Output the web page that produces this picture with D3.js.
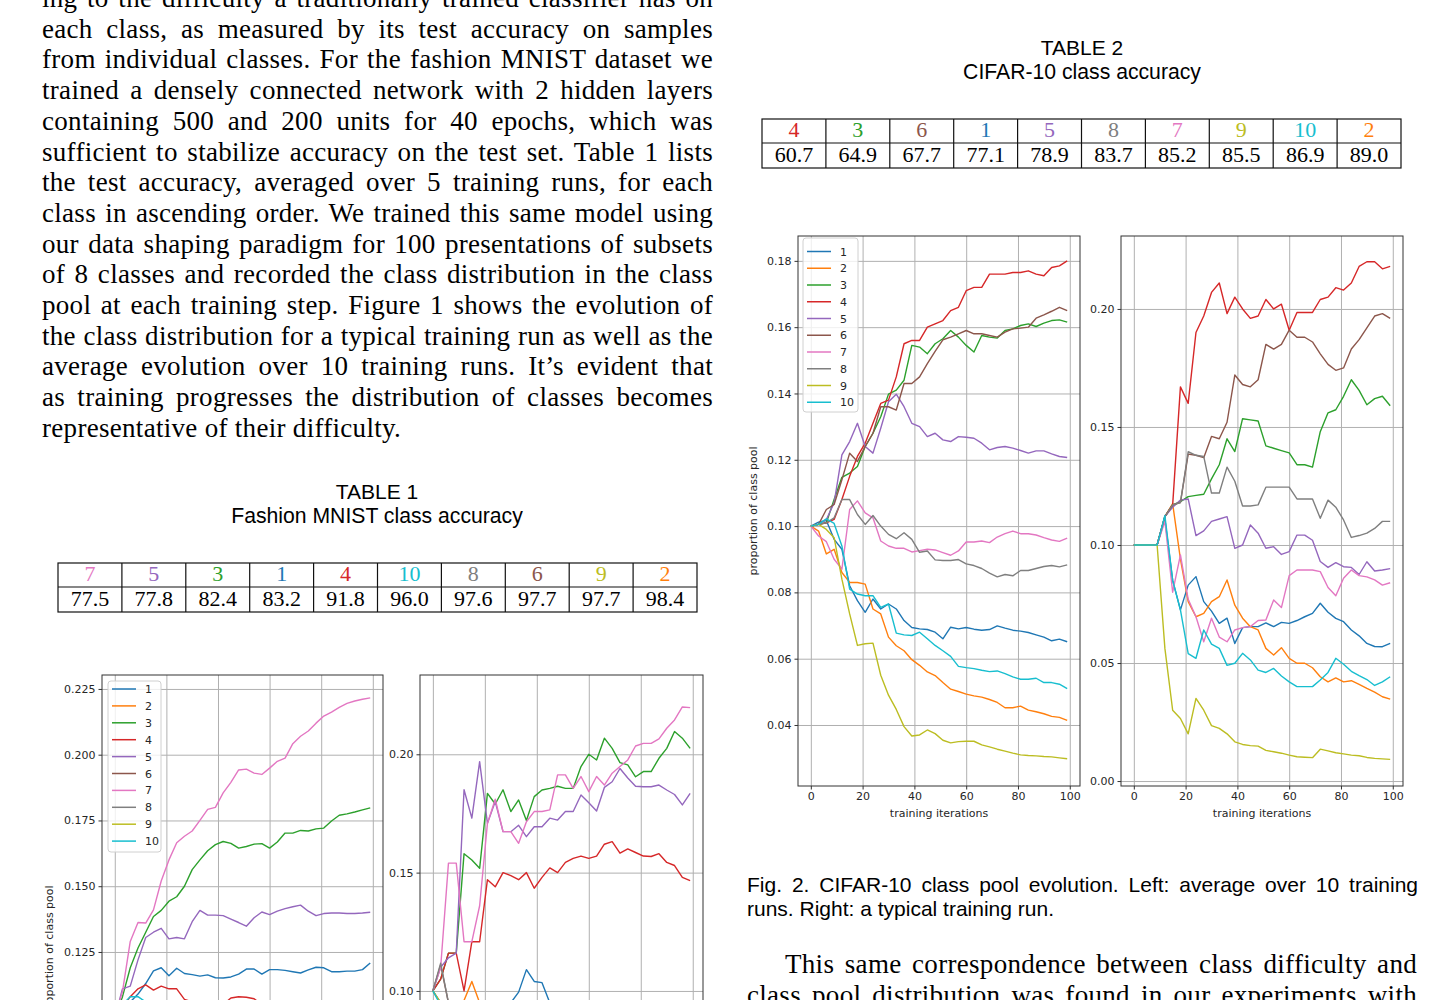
<!DOCTYPE html>
<html>
<head>
<meta charset="utf-8">
<script src="https://cdn.jsdelivr.net/npm/d3@7"></script>
<style>
  body { margin: 0; background: #fff; }
  svg { display: block; }
</style>
</head>
<body>
<svg id="page" width="1442" height="1000"></svg>
<script>
// ---- data ----
var classes = ["1", "2", "3", "4", "5", "6", "7", "8", "9", "10"];
var classColor = d3.scaleOrdinal().domain(classes).range(d3.schemeCategory10);

// training iterations at which the curves are sampled
var iters = [0, 3, 6, 9, 12, 15, 18, 21, 24, 27, 30, 33, 36, 39, 42, 45, 48, 51, 54, 57,
             60, 63, 66, 69, 72, 75, 78, 81, 84, 87, 90, 93, 96, 99];

var fashionOrder = ["7", "5", "3", "1", "4", "10", "8", "6", "9", "2"];
var fashionAcc = ["77.5", "77.8", "82.4", "83.2", "91.8", "96.0", "97.6", "97.7", "97.7", "98.4"];
var cifarOrder = ["4", "3", "6", "1", "5", "8", "7", "9", "10", "2"];
var cifarAcc = ["60.7", "64.9", "67.7", "77.1", "78.9", "83.7", "85.2", "85.5", "86.9", "89.0"];

// CIFAR-10, average over 10 runs (rows = class 1..10)
var cifarAvg = [
  [.100,.1012,.1017,.096,.093,.082,.0775,.074,.078,.075,.0765,.075,.0715,.0694,.069,.0688,.068,.066,.0695,.069,.0694,.0689,.0686,.0688,.0699,.0692,.0686,.0683,.0679,.0672,.0665,.0654,.0659,.0651],
  [.100,.0985,.0916,.093,.086,.083,.083,.0825,.075,.0735,.0665,.0639,.0624,.0597,.058,.056,.0549,.0528,.0508,.0501,.0493,.0488,.0484,.0477,.0468,.0452,.0452,.0457,.0445,.044,.0434,.0426,.0423,.0414],
  [.100,.1005,.101,.108,.1147,.116,.118,.124,.128,.133,.1398,.141,.144,.1545,.154,.152,.155,.1565,.159,.157,.1545,.1525,.1575,.157,.1567,.159,.1595,.1605,.161,.1602,.1612,.162,.1622,.1615],
  [.100,.1005,.101,.102,.108,.115,.121,.125,.131,.137,.138,.145,.155,.156,.156,.160,.161,.162,.165,.166,.171,.172,.172,.176,.176,.176,.1765,.1765,.177,.176,.1755,.178,.1785,.180],
  [.100,.1005,.102,.107,.1215,.1255,.131,.124,.122,.1295,.1375,.1398,.136,.131,.130,.127,.128,.126,.1255,.127,.1268,.1265,.125,.123,.1237,.124,.1235,.1228,.122,.1227,.1227,.1218,.121,.1207],
  [.100,.1005,.105,.1065,.114,.122,.1195,.124,.128,.136,.136,.135,.143,.143,.145,.149,.1527,.1562,.157,.158,.159,.158,.158,.1575,.157,.1585,.1595,.1597,.160,.1627,.1637,.1648,.166,.165],
  [.100,.097,.0953,.090,.087,.105,.1076,.104,.1025,.0955,.094,.0933,.0933,.0922,.0926,.093,.0928,.092,.0912,.0925,.0952,.0952,.0955,.095,.0967,.0977,.0985,.0977,.0977,.0973,.0965,.0958,.0954,.0964],
  [.100,.1005,.101,.1025,.108,.108,.1035,.1005,.1032,.100,.0975,.0962,.098,.096,.0921,.0925,.0898,.0896,.0896,.0899,.0886,.0881,.0872,.0858,.0847,.0854,.085,.0866,.0866,.0872,.0878,.0881,.0877,.0883],
  [.100,.1005,.099,.0965,.084,.0735,.064,.0645,.0647,.055,.049,.0447,.0395,.0367,.037,.0385,.0374,.0354,.0346,.035,.0351,.0351,.034,.0334,.0327,.0321,.0315,.031,.0308,.0307,.0305,.0304,.0301,.0298],
  [.100,.1005,.1022,.1008,.094,.081,.0795,.079,.079,.0755,.0765,.0677,.0672,.067,.068,.066,.064,.0624,.0607,.0577,.0573,.057,.0565,.0561,.0563,.0555,.0545,.0538,.0538,.0541,.0528,.0528,.0523,.051]
];

// CIFAR-10, a typical run
var cifarRun = [
  [.100,.100,.100,.100,.111,.085,.0725,.083,.0866,.076,.072,.0668,.069,.0583,.065,.0654,.0654,.067,.0654,.0672,.0668,.068,.0696,.071,.0753,.0715,.0689,.0675,.064,.0615,.0583,.057,.0569,.0583],
  [.100,.100,.100,.100,.112,.1175,.094,.076,.0696,.071,.076,.0781,.0852,.0745,.069,.0654,.064,.0562,.0534,.0565,.052,.0499,.0499,.048,.0442,.042,.0437,.042,.0425,.041,.0393,.0377,.0357,.0347],
  [.100,.100,.100,.100,.112,.117,.1184,.1205,.121,.1215,.128,.134,.145,.1396,.1535,.153,.1525,.142,.141,.140,.139,.134,.134,.133,.148,.156,.1573,.163,.170,.1655,.1594,.162,.163,.159],
  [.100,.100,.100,.100,.112,.117,.167,.160,.190,.197,.207,.211,.198,.205,.200,.196,.197,.204,.200,.202,.191,.1985,.1985,.1985,.204,.205,.209,.208,.211,.218,.220,.220,.217,.218],
  [.100,.100,.100,.100,.112,.116,.119,.1195,.104,.106,.110,.111,.112,.0986,.100,.1085,.105,.0986,.0993,.096,.0972,.1042,.1042,.102,.093,.0905,.0925,.0908,.0905,.0875,.0929,.089,.0894,.090],
  [.100,.100,.100,.100,.112,.117,.118,.1385,.138,.137,.146,.145,.152,.172,.168,.167,.170,.185,.183,.185,.191,.188,.188,.186,.181,.1765,.174,.175,.183,.187,.192,.197,.198,.196],
  [.100,.100,.100,.100,.110,.080,.0958,.077,.0696,.059,.069,.061,.059,.064,.065,.0654,.068,.0682,.0767,.0735,.087,.0894,.0894,.0894,.0887,.082,.0785,.0859,.0894,.087,.0865,.0852,.083,.084],
  [.100,.100,.100,.100,.112,.117,.118,.1395,.138,.1375,.122,.122,.133,.127,.1165,.1165,.117,.1245,.1245,.1245,.1245,.1195,.1195,.1195,.1113,.119,.116,.1106,.1032,.104,.105,.107,.110,.110],
  [.100,.100,.100,.100,.0562,.030,.0265,.020,.035,.030,.0235,.0223,.020,.0166,.0155,.015,.0148,.013,.0124,.0118,.011,.0103,.0101,.0099,.0135,.0128,.012,.0115,.011,.0107,.010,.0096,.0094,.0092],
  [.100,.100,.100,.100,.1125,.085,.0725,.054,.052,.064,.058,.0562,.049,.0499,.0541,.0513,.047,.046,.0477,.0445,.042,.040,.040,.040,.0428,.046,.052,.0495,.0465,.0447,.043,.0405,.042,.0442]
];

// Fashion MNIST, average over 10 runs (null = below the visible part of the page)
var fashionAvg = [
  [.100,.103,.106,.109,.113,.1178,.119,.116,.1188,.1168,.1164,.1158,.1163,.1152,.1151,.1155,.1166,.1185,.1185,.1166,.1183,.1183,.118,.1175,.117,.1182,.1192,.119,.1175,.1175,.1177,.1177,.1183,.1208],
  [.100],
  [.100,.108,.119,.1265,.1325,.1385,.1408,.1443,.146,.150,.1563,.160,.1635,.1658,.167,.1663,.1645,.1651,.166,.1662,.1645,.1668,.1702,.1702,.1712,.171,.1718,.1721,.1748,.177,.1775,.1782,.179,.1798],
  [.100,.104,.108,.111,.1125,.1105,.112,.111,.111,.107,.106,.105,.104,.104,.105,.1075,.108,.1078,.1072,.105,.104,.103],
  [.100,.111,.112,.122,.1305,.1325,.134,.130,.1305,.130,.1365,.1408,.139,.139,.1388,.1375,.1362,.1348,.138,.1402,.1392,.1405,.1415,.1422,.1428,.1405,.1388,.1396,.1398,.1398,.1396,.1396,.1398,.1401],
  [.100],
  [.100,.110,.129,.1362,.136,.141,.152,.160,.1665,.169,.171,.175,.1792,.180,.1855,.1895,.1942,.1945,.193,.1925,.1949,.1975,.1987,.2042,.207,.209,.212,.2147,.2162,.218,.2195,.2204,.2211,.2216],
  [.100],
  [.100],
  [.100,.105,.108,.108,.106,.104,.102]
];

// Fashion MNIST, a typical run
var fashionRun = [
  [.100,.095,null,null,null,null,null,null,null,null,.095,.0995,.109,.104,.1035,.095],
  [.100,.095,null,null,.096,.104,.095],
  [.100,.105,.116,.116,.158,.1553,.1518,.1835,.179,.185,.1758,.1807,.172,.1821,.1849,.1856,.1865,.1856,.1856,.1948,.200,.1976,.2068,.2025,.1965,.1955,.1905,.1927,.1927,.1983,.2025,.2096,.2068,.2025],
  [.100,.105,.116,.116,.100,.1208,.1208,.147,.144,.150,.1487,.147,.150,.1434,.148,.152,.150,.1543,.156,.157,.156,.157,.162,.1631,.1582,.160,.1585,.157,.1568,.158,.1543,.153,.148,.1466],
  [.100,.110,.114,.116,.185,.173,.1969,.1708,.180,.1673,.1673,.170,.1652,.1694,.1694,.173,.1722,.1758,.1758,.1828,.1795,.176,.186,.1884,.194,.190,.1865,.1863,.1863,.187,.1849,.183,.1786,.1835],
  [.100,.111,.095],
  [.100,.110,.154,.154,.1208,.1208,.136,.1708,.181,.1673,.1673,.1624,.1715,.1758,.1758,.1765,.1913,.1913,.1856,.1906,.1842,.1906,.187,.192,.1948,.1976,.2035,.2046,.2046,.2065,.211,.2145,.2200,.2197],
  [.100,.1117,.095],
  [.100,.095],
  [.100,.094]
];

// ---- text ----
var bodyLines = [
  "ing to the difficulty a traditionally trained classifier has on",
  "each class, as measured by its test accuracy on samples",
  "from individual classes. For the fashion MNIST dataset we",
  "trained a densely connected network with 2 hidden layers",
  "containing 500 and 200 units for 40 epochs, which was",
  "sufficient to stabilize accuracy on the test set. Table 1 lists",
  "the test accuracy, averaged over 5 training runs, for each",
  "class in ascending order. We trained this same model using",
  "our data shaping paradigm for 100 presentations of subsets",
  "of 8 classes and recorded the class distribution in the class",
  "pool at each training step. Figure 1 shows the evolution of",
  "the class distribution for a typical training run as well as the",
  "average evolution over 10 training runs. It\u2019s evident that",
  "as training progresses the distribution of classes becomes",
  "representative of their difficulty."
];
var captionLines = [
  "Fig. 2. CIFAR-10 class pool evolution. Left: average over 10 training",
  "runs. Right: a typical training run."
];
var nextLines = [
  "This same correspondence between class difficulty and",
  "class pool distribution was found in our experiments with"
];

var SERIF = "Liberation Serif, Times New Roman, serif";
var SANS = "Liberation Sans, Arial, sans-serif";
var PLOT = "DejaVu Sans, sans-serif";

var svg = d3.select("#page");

function textLine(x, y, str, font, size, width, tracking) {
  var t = svg.append("text")
    .attr("x", x).attr("y", y)
    .attr("font-family", font).attr("font-size", size)
    .attr("fill", "#000")
    .style("letter-spacing", (tracking || 0) + "px")
    .text(str);
  if (width) {
    var gap = width - t.node().getComputedTextLength();
    var n = str.split(" ").length - 1;
    if (n > 0) t.style("word-spacing", (gap / n) + "px");
  }
  return t;
}

bodyLines.forEach(function (s, i) {
  var last = i === bodyLines.length - 1;
  textLine(42, 7 + i * 30.7, s, SERIF, 27, last ? null : 671, 0.3);
});
textLine(747, 892, captionLines[0], SANS, 21, 671);
textLine(747, 916, captionLines[1], SANS, 21, null);
textLine(785, 973, nextLines[0], SERIF, 27, 632, 0.3);
textLine(747, 1004, nextLines[1], SERIF, 27, 670, 0.3);

// ---- tables ----
function drawTable(cx, titleY, title, sub, left, right, top, mid, bottom, order, acc) {
  svg.append("text").attr("x", cx).attr("y", titleY).attr("text-anchor", "middle")
    .attr("font-family", SANS).attr("font-size", 21).text(title);
  svg.append("text").attr("x", cx).attr("y", titleY + 24).attr("text-anchor", "middle")
    .attr("font-family", SANS).attr("font-size", 21.2).text(sub);

  var col = d3.scaleBand().domain(d3.range(order.length)).range([left, right]);
  var g = svg.append("g").attr("stroke", "#111").attr("stroke-width", 1.2);
  g.append("rect").attr("x", left).attr("y", top)
    .attr("width", right - left).attr("height", bottom - top).attr("fill", "none");
  g.append("line").attr("x1", left).attr("x2", right).attr("y1", mid).attr("y2", mid);
  g.selectAll("line.v").data(d3.range(1, order.length)).join("line")
    .attr("class", "v")
    .attr("x1", function (i) { return col(i); }).attr("x2", function (i) { return col(i); })
    .attr("y1", top).attr("y2", bottom);

  svg.append("g").selectAll("text").data(order).join("text")
    .attr("x", function (d, i) { return col(i) + col.bandwidth() / 2; })
    .attr("y", top + 18)
    .attr("text-anchor", "middle")
    .attr("font-family", SERIF).attr("font-size", 22)
    .attr("fill", function (d) { return classColor(d); })
    .text(function (d) { return d; });
  svg.append("g").selectAll("text").data(acc).join("text")
    .attr("x", function (d, i) { return col(i) + col.bandwidth() / 2; })
    .attr("y", mid + 19)
    .attr("text-anchor", "middle")
    .attr("font-family", SERIF).attr("font-size", 22)
    .attr("fill", "#000")
    .text(function (d) { return d; });
}

drawTable(377, 499, "TABLE 1", "Fashion MNIST class accuracy", 58, 697, 563, 587, 612, fashionOrder, fashionAcc);
drawTable(1082, 55, "TABLE 2", "CIFAR-10 class accuracy", 762, 1401, 119, 143, 168, cifarOrder, cifarAcc);

// ---- line panels ----
var xTicks = [0, 20, 40, 60, 80, 100];

function drawPanel(p) {
  var x = d3.scaleLinear().domain([-4.95, 103.95]).range([p.left, p.right]);
  var y = d3.scaleLinear().domain(p.yDomain).range([p.bottom, p.top]);
  var w = p.right - p.left, h = p.bottom - p.top;
  var g = svg.append("g").attr("font-family", PLOT);

  g.append("clipPath").attr("id", "clip-" + p.id)
    .append("rect").attr("x", p.left).attr("y", p.top).attr("width", w).attr("height", h);

  // grid
  var gx = g.append("g").attr("transform", "translate(0," + p.bottom + ")")
    .call(d3.axisBottom(x).tickValues(xTicks).tickSize(-h).tickFormat(""));
  var gy = g.append("g").attr("transform", "translate(" + p.left + ",0)")
    .call(d3.axisLeft(y).tickValues(p.yTicks).tickSize(-w).tickFormat(""));
  [gx, gy].forEach(function (s) {
    s.select(".domain").remove();
    s.selectAll("line").attr("stroke", "#b0b0b0").attr("stroke-width", 1);
  });

  // lines
  var line = d3.line()
    .defined(function (v) { return v != null; })
    .x(function (v, i) { return x(iters[i]); })
    .y(function (v) { return y(v); });
  g.append("g").attr("clip-path", "url(#clip-" + p.id + ")")
    .selectAll("path").data(p.series).join("path")
    .attr("fill", "none")
    .attr("stroke", function (d, i) { return classColor(classes[i]); })
    .attr("stroke-width", 1.4)
    .attr("stroke-linejoin", "round")
    .attr("d", function (d) { return line(d); });

  // axes with tick labels
  var ax = g.append("g").attr("transform", "translate(0," + p.bottom + ")")
    .call(d3.axisBottom(x).tickValues(xTicks).tickSize(3.5).tickPadding(3).tickSizeOuter(0));
  var ay = g.append("g").attr("transform", "translate(" + p.left + ",0)")
    .call(d3.axisLeft(y).tickValues(p.yTicks).tickFormat(d3.format(p.yFmt))
      .tickSize(3.5).tickPadding(3).tickSizeOuter(0));
  [ax, ay].forEach(function (s) {
    s.select(".domain").remove();
    s.selectAll("line").attr("stroke", "#333");
    s.selectAll("text").attr("font-size", 11).attr("fill", "#262626").attr("font-family", PLOT);
  });

  // spines
  g.append("rect").attr("x", p.left).attr("y", p.top).attr("width", w).attr("height", h)
    .attr("fill", "none").attr("stroke", "#333").attr("stroke-width", 1);

  if (p.xlabel) {
    g.append("text").attr("x", p.left + w / 2).attr("y", p.bottom + 31)
      .attr("text-anchor", "middle").attr("font-size", 11).attr("fill", "#262626")
      .text("training iterations");
  }
  if (p.ylabel) {
    g.append("text").attr("transform", "translate(" + p.ylabel.x + "," + p.ylabel.y + ") rotate(-90)")
      .attr("text-anchor", "middle").attr("font-size", 11).attr("fill", "#262626")
      .text("proportion of class pool");
  }
  if (p.legend) {
    var L = p.legend;
    var lg = g.append("g");
    lg.append("rect").attr("x", L.x).attr("y", L.y).attr("width", L.w).attr("height", L.h)
      .attr("rx", 3).attr("fill", "#fff").attr("fill-opacity", 0.8)
      .attr("stroke", "#d0d0d0").attr("stroke-width", 1);
    var item = lg.selectAll("g.item").data(classes).join("g").attr("class", "item")
      .attr("transform", function (d, i) { return "translate(" + (L.x + 4) + "," + (L.first + i * L.step) + ")"; });
    item.append("line").attr("x1", 0).attr("x2", 24).attr("y1", 0).attr("y2", 0)
      .attr("stroke", function (d) { return classColor(d); }).attr("stroke-width", 1.5);
    item.append("text").attr("x", 33).attr("y", 4).attr("font-size", 11).attr("fill", "#262626")
      .text(function (d) { return d; });
  }
}

var panels = [
  { id: "cavg", series: cifarAvg, left: 798, right: 1080, top: 236, bottom: 786,
    yDomain: [0.0216, 0.1875], yTicks: [0.04, 0.06, 0.08, 0.10, 0.12, 0.14, 0.16, 0.18], yFmt: ".2f",
    legend: { x: 803, y: 238, w: 55, h: 174, first: 251.5, step: 16.75 },
    ylabel: { x: 757, y: 511 }, xlabel: true },
  { id: "crun", series: cifarRun, left: 1121, right: 1403, top: 236, bottom: 786,
    yDomain: [-0.0021, 0.2309], yTicks: [0, 0.05, 0.10, 0.15, 0.20], yFmt: ".2f", xlabel: true },
  { id: "favg", series: fashionAvg, left: 102, right: 383, top: 675, bottom: 1225,
    yDomain: [0.0212, 0.2303], yTicks: [0.100, 0.125, 0.150, 0.175, 0.200, 0.225], yFmt: ".3f",
    legend: { x: 108, y: 681, w: 53, h: 171, first: 689, step: 16.9 },
    ylabel: { x: 53, y: 950 } },
  { id: "frun", series: fashionRun, left: 420, right: 703, top: 675, bottom: 1225,
    yDomain: [0.0011, 0.2335], yTicks: [0.05, 0.10, 0.15, 0.20], yFmt: ".2f" }
];
panels.forEach(drawPanel);
</script>
</body>
</html>
